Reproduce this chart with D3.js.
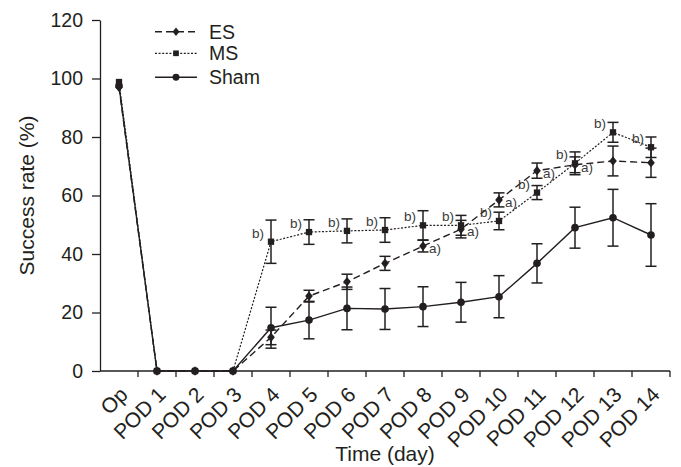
<!DOCTYPE html>
<html>
<head>
<meta charset="utf-8">
<script src="https://cdn.jsdelivr.net/npm/d3@7/dist/d3.min.js"></script>
<style>
  body { margin: 0; background: #ffffff; }
  text { font-family: "Liberation Sans", Arial, sans-serif; }
</style>
</head>
<body>
<div id="chart-container"></div>
<script>
const categories = ["Op", "POD 1", "POD 2", "POD 3", "POD 4", "POD 5", "POD 6", "POD 7",
  "POD 8", "POD 9", "POD 10", "POD 11", "POD 12", "POD 13", "POD 14"];

const esMean = [97, 0, 0, 0, 11.5, 25.6, 30.5, 36.8, 42.7, 48.5, 58.5, 68.5, 70.5, 71.8, 71.2];
const esErr = [0, 0, 0, 0, 2.5, 2, 2.6, 2.4, 2, 3, 2.4, 2.6, 2.7, 5.1, 5];
const msMean = [98.8, 0, 0, 0, 44.2, 47.5, 47.9, 48.2, 49.8, 49.8, 51.3, 61, 71, 81.6, 76.5];
const msErr = [0, 0, 0, 0, 7.4, 4.2, 4.1, 4.2, 5, 3.4, 3, 2.4, 3.9, 3.4, 3.5];
const shamMean = [97.5, 0, 0, 0, 14.8, 17.4, 21.4, 21.2, 22, 23.5, 25.4, 36.8, 49, 52.4, 46.5];
const shamErr = [0, 0, 0, 0, 7, 6.4, 7.3, 7, 6.8, 6.8, 7.2, 6.7, 7, 9.7, 10.7];

// significance marks next to the points
const esNotes = ["", "", "", "", "", "", "", "", "a)", "a)", "a)", "a)", "a)", "", ""];
const msNotes = ["", "", "", "", "b)", "b)", "b)", "b)", "b)", "b)", "b)", "b)", "b)", "b)", "b)"];

const yTicks = [0, 20, 40, 60, 80, 100, 120];
const seriesNames = ["ES", "MS", "Sham"];

const width = 681;
const height = 467;
const margin = { top: 20, right: 11, bottom: 96, left: 100 };
const ink = "#231f20";

const svg = d3
  .select("#chart-container")
  .append("svg")
  .attr("width", width)
  .attr("height", height);

const x = d3
  .scaleBand()
  .domain(categories)
  .range([margin.left, width - margin.right]);

const y = d3
  .scaleLinear()
  .domain([0, 120])
  .range([height - margin.bottom, margin.top]);

const cx = (i) => x(categories[i]) + x.bandwidth() / 2;

// marker shapes
const diamond = "M0,-4.8L3.8,0L0,4.8L-3.8,0Z";
const square = d3.symbol(d3.symbolSquare, 40)();
const circle = d3.symbol(d3.symbolCircle, 46)();

const series = [
  { name: seriesNames[0], mean: esMean, err: esErr, dash: "7,4", width: 1.4, shape: diamond },
  { name: seriesNames[1], mean: msMean, err: msErr, dash: "2,1.6", width: 1.2, shape: square },
  { name: seriesNames[2], mean: shamMean, err: shamErr, dash: null, width: 1.4, shape: circle },
];

// Y axis
const yAxis = svg
  .append("g")
  .attr("transform", `translate(${margin.left},0)`)
  .call(d3.axisLeft(y).tickValues(yTicks).tickSize(8).tickPadding(9).tickSizeOuter(0));
yAxis.select(".domain").attr("stroke", ink).attr("stroke-width", 1.3);
yAxis.selectAll(".tick line").attr("stroke", ink).attr("stroke-width", 1.3);
yAxis.selectAll(".tick text").style("font-size", "19.5px").attr("fill", ink);

// X axis: line, ticks at category boundaries, rotated labels
const xAxis = svg.append("g");
xAxis
  .append("line")
  .attr("x1", x.range()[0])
  .attr("x2", x.range()[1])
  .attr("y1", y(0))
  .attr("y2", y(0))
  .attr("stroke", ink)
  .attr("stroke-width", 1.3);

xAxis
  .selectAll(".xtick")
  .data(categories)
  .enter()
  .append("line")
  .attr("x1", (d) => x(d) + x.bandwidth())
  .attr("x2", (d) => x(d) + x.bandwidth())
  .attr("y1", y(0))
  .attr("y2", y(0) + 6)
  .attr("stroke", ink)
  .attr("stroke-width", 1.3);

xAxis
  .selectAll(".xlabel")
  .data(categories)
  .enter()
  .append("text")
  .attr("text-anchor", "end")
  .attr("fill", ink)
  .style("font-size", "21px")
  .attr("transform", (d) => `translate(${x(d) + x.bandwidth() / 2 + 10}, ${y(0) + 25}) rotate(-45)`)
  .text((d) => d);

// axis titles
svg
  .append("text")
  .attr("text-anchor", "middle")
  .attr("fill", ink)
  .style("font-size", "21px")
  .attr("x", (x.range()[0] + x.range()[1]) / 2)
  .attr("y", 461)
  .text("Time (day)");

svg
  .append("text")
  .attr("text-anchor", "middle")
  .attr("fill", ink)
  .style("font-size", "21px")
  .attr("transform", `translate(34, ${(y(0) + y(120)) / 2}) rotate(-90)`)
  .text("Success rate (%)");

// series lines
const line = d3
  .line()
  .x((d, i) => cx(i))
  .y((d) => y(d));

series.forEach((s) => {
  svg
    .append("path")
    .datum(s.mean)
    .attr("d", line)
    .attr("fill", "none")
    .attr("stroke", ink)
    .attr("stroke-width", s.width)
    .attr("stroke-dasharray", s.dash);
});

// error bars
series.forEach((s) => {
  const bars = s.mean
    .map((m, i) => ({ i: i, lo: m - s.err[i], hi: m + s.err[i] }))
    .filter((d) => s.err[d.i] > 0);
  const g = svg.append("g").attr("stroke", ink).attr("stroke-width", 1.5);
  bars.forEach((b) => {
    g.append("line").attr("x1", cx(b.i)).attr("x2", cx(b.i)).attr("y1", y(b.lo)).attr("y2", y(b.hi));
    g.append("line").attr("x1", cx(b.i) - 5.5).attr("x2", cx(b.i) + 5.5).attr("y1", y(b.lo)).attr("y2", y(b.lo));
    g.append("line").attr("x1", cx(b.i) - 5.5).attr("x2", cx(b.i) + 5.5).attr("y1", y(b.hi)).attr("y2", y(b.hi));
  });
});

// markers
series.forEach((s) => {
  svg
    .append("g")
    .selectAll("path")
    .data(s.mean)
    .enter()
    .append("path")
    .attr("d", s.shape)
    .attr("fill", ink)
    .attr("transform", (d, i) => `translate(${cx(i)}, ${y(d)})`);
});

// a) to the right of ES points, b) to the left of MS points
esNotes.forEach((n, i) => {
  if (!n) return;
  svg
    .append("text")
    .style("font-size", "13.5px")
    .attr("fill", "#3a3a3a")
    .attr("x", cx(i) + 6)
    .attr("y", y(esMean[i]) + 7)
    .text(n);
});
msNotes.forEach((n, i) => {
  if (!n) return;
  svg
    .append("text")
    .style("font-size", "13.5px")
    .attr("fill", "#3a3a3a")
    .attr("text-anchor", "end")
    .attr("x", cx(i) - 7)
    .attr("y", y(msMean[i]) - 4)
    .text(n);
});

// legend
const legend = svg.append("g").attr("transform", "translate(155, 0)");
const legendRows = [31.7, 53.3, 77.3];
series.forEach((s, i) => {
  const row = legend.append("g").attr("transform", `translate(0, ${legendRows[i]})`);
  row
    .append("line")
    .attr("x1", 0)
    .attr("x2", 42)
    .attr("stroke", ink)
    .attr("stroke-width", s.width)
    .attr("stroke-dasharray", s.dash);
  row
    .append("path")
    .attr("d", s.shape)
    .attr("fill", ink)
    .attr("transform", "translate(21, 0) scale(0.9)");
  row
    .append("text")
    .attr("x", 54)
    .attr("y", 7)
    .attr("fill", ink)
    .style("font-size", "19.5px")
    .text(s.name);
});
</script>
</body>
</html>
